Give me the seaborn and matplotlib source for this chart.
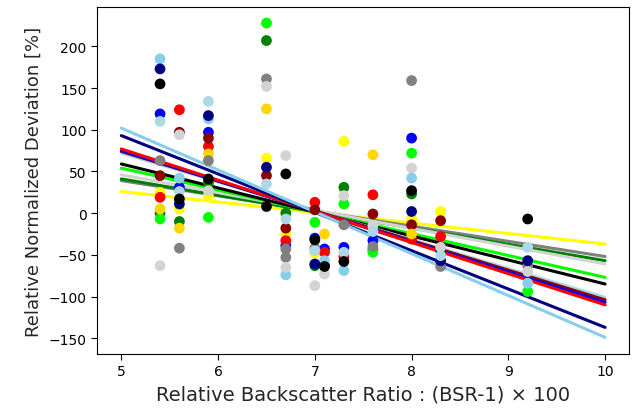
import numpy as np
import pandas as pd
import seaborn as sns
import matplotlib
matplotlib.use("Agg")
import matplotlib.pyplot as plt

nan = np.nan

# backscatter ratio of each sample column
bsr = [5.4, 5.6, 5.9, 6.5, 6.7, 7.0, 7.1, 7.3, 7.6, 8.0, 8.3, 9.2]

# deviation per series (one value per bsr column, nan = no point)
dev_blue      = [119, 31, 97, nan, -39, -30, -43, -41, -33, 90, -45, nan]
dev_navy      = [173, 11, 117, 55, nan, -61, nan, nan, nan, 2, -57, -57]
dev_red       = [19, 124, 80, nan, -33, 13, -47, -52, 22, -31, -28, nan]
dev_darkred   = [45, 97, 90, 45, -18, 4, -63, nan, -1, -14, -9, nan]
dev_green     = [0, -10, 36, 207, 0, -63, nan, 31, -44, 23, nan, nan]
dev_lime      = [-7, nan, -5, 228, nan, -11, nan, 11, -47, 72, nan, -94]
dev_yellow    = [25, 5, 21, 66, -25, -48, nan, 86, nan, -7, 2, nan]
dev_gold      = [5, -18, 71, 125, nan, nan, -25, nan, 70, -25, nan, nan]
dev_gray      = [63, -42, 63, 161, -43, -42, nan, -14, -40, 159, -64, -63]
dev_lightgray = [-63, 94, 27, 152, 69, -87, -73, 21, -15, 54, -41, -70]
dev_skyblue   = [185, 42, 113, nan, -74, nan, -57, -69, nan, 42, nan, -84]
dev_lightblue = [110, 26, 134, 35, -7, -45, nan, -47, -22, nan, -51, -41]
dev_black     = [155, 17, 41, 8, 47, -32, -64, -58, nan, 27, nan, -7]
dev_gray2     = [nan, nan, nan, nan, -53, nan, nan, nan, nan, nan, nan, nan]
dev_silver    = [nan, nan, nan, nan, -65, nan, nan, nan, nan, nan, nan, nan]

series = ["green", "yellow", "blue", "red", "darkred", "lime", "gold",
          "gray", "lightgray", "skyblue", "navy", "lightblue", "black", "gray2", "silver"]
devs = [dev_green, dev_yellow, dev_blue, dev_red, dev_darkred, dev_lime,
        dev_gold, dev_gray, dev_lightgray, dev_skyblue, dev_navy, dev_lightblue, dev_black,
        dev_gray2, dev_silver]
colors = {"blue": "blue", "navy": "navy", "red": "red", "darkred": "darkred",
          "green": "green", "lime": "lime", "yellow": "yellow", "gold": "gold",
          "gray": "gray", "lightgray": "lightgray", "skyblue": "skyblue",
          "lightblue": "lightblue", "black": "black", "gray2": "gray",
          "silver": "lightgray"}

# fitted lines, value at bsr = 5 and bsr = 10
fit_x = [5, 10]
fit_series = ["yellow", "gray", "green", "lightgray", "lime", "black",
              "lightblue", "darkred", "blue", "red", "navy", "skyblue"]
fit_start = [26, 39, 41, 46, 54, 59, 72, 74, 75, 77, 93, 102]
fit_end = [-37, -52, -57, -61, -77, -85, -101, -104, -107, -110, -137, -149]

rows = []
for name, d in zip(series, devs):
    for x, y in zip(bsr, d):
        if not np.isnan(y):
            rows.append((name, x, y))
df_pts = pd.DataFrame(rows, columns=["series", "bsr", "dev"])

lrows = []
for name, y0, y1 in zip(fit_series, fit_start, fit_end):
    lrows.append((name, fit_x[0], y0))
    lrows.append((name, fit_x[1], y1))
df_fit = pd.DataFrame(lrows, columns=["series", "bsr", "dev"])

sns.set_style("ticks", {"axes.edgecolor": "black", "xtick.color": "black",
                        "ytick.color": "black"})
plt.rcParams["font.family"] = ["DejaVu Sans"]

fig = plt.figure(figsize=(6.35, 4.1), dpi=100)
ax = fig.add_axes([0.153, 0.134, 0.838, 0.846])

sns.lineplot(data=df_fit, x="bsr", y="dev", hue="series", palette=colors,
             estimator=None, linewidth=2.2, legend=False, ax=ax, zorder=2)
sns.scatterplot(data=df_pts, x="bsr", y="dev", hue="series", palette=colors,
                s=60, linewidth=0, legend=False, ax=ax, zorder=3)

ax.set_xlim(4.75, 10.25)
ax.set_ylim(-169, 247)
ax.set_xticks([5, 6, 7, 8, 9, 10])
ax.set_yticks([-150, -100, -50, 0, 50, 100, 150, 200])
ax.tick_params(labelsize=10, length=4)
ax.set_xlabel("Relative Backscatter Ratio : (BSR-1) × 100", fontsize=14)
ax.set_ylabel("Relative Normalized Deviation [%]", fontsize=13)

fig.savefig("out.png", dpi=100)
